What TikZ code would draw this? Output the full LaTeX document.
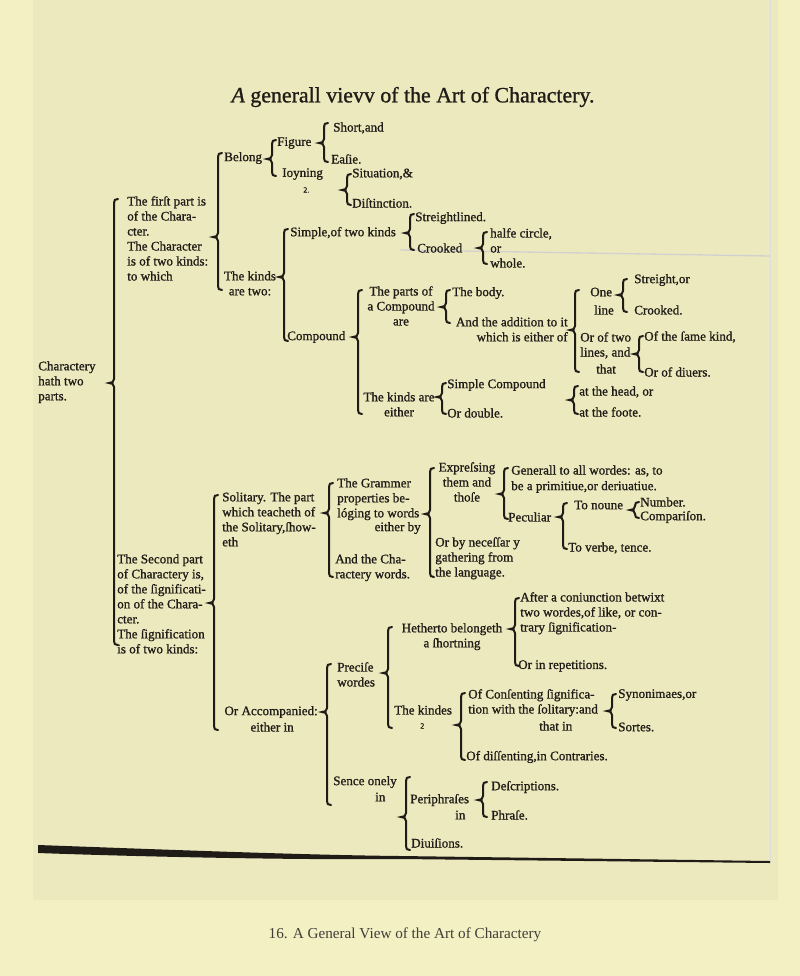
\documentclass[tikz,border=0pt]{standalone}
\usepackage{fontspec}
\setmainfont{Liberation Serif}
\newfontfamily\printfont{Liberation Serif}[FakeBold=1.0]
\usepackage{xcolor}
\usepackage{tikz}
\definecolor{charpaper}{HTML}{F3F0C4}
\definecolor{charplate}{HTML}{ECE9BF}
\definecolor{charink}{HTML}{1F1B16}
\newcommand\bodyfont{\printfont\fontsize{9.8}{11.25}\selectfont}
\newcommand\smallfont{\printfont\fontsize{6}{7}\selectfont}
% brace: x, top, tip, bottom
\newcommand\brc[4]{%
  \draw[brace] (#1+4,#2) .. controls (#1+1,#2) and (#1,#2+1) .. (#1,#2+4)
    -- (#1,#3-4) .. controls (#1,#3-1) and (#1-2,#3) .. (#1-5,#3)
    .. controls (#1-2,#3) and (#1,#3+1) .. (#1,#3+4)
    -- (#1,#4-4) .. controls (#1,#4-1) and (#1+1,#4) .. (#1+4,#4);}

\begin{document}
\begin{tikzpicture}[x=0.75pt, y=-0.75pt,
  txt/.style={anchor=west, inner sep=0pt, text=charink, font=\bodyfont},
  blk/.style={txt, anchor=north west, align=left},
  ttl/.style={inner sep=0pt, text=charink, font=\printfont\fontsize{16.4}{19}\selectfont},
  captext/.style={inner sep=0pt, text=charink!85, font=\fontsize{11.4}{13}\selectfont},
  brace/.style={draw=charink, line width=1.5pt, line cap=round}
]
\useasboundingbox (0,0) rectangle (800,976);
\fill[charpaper] (0,0) rectangle (800,976);
\fill[charplate] (33,0) rectangle (778,900);
\draw[charink!15, line width=0.6pt] (770,0) -- (770,862);
\draw[charink!20, line width=1pt] (400,250) -- (770,256);
\fill[charink] (38,845) .. controls (150,849) and (300,855) .. (400,856) -- (770,861)
  -- (770,863) -- (400,859) .. controls (300,860) and (150,857) .. (38,853) -- cycle;

\node[ttl] (title) at (413,97) {{\itshape A} generall vievv of the Art of Charactery.};

% first part
\node[txt] (short) at (333,128) {Short,and};
\node[txt] (figure) at (277,143) {Figure};
\node[txt] (belong) at (224,158) {Belong};
\node[txt] (easie) at (331,159) {Eaſie.};
\node[txt] (ioyning) at (282,174) {Ioyning};
\node[txt, font=\smallfont] (twoa) at (303,190) {2.};
\node[txt] (situation) at (352,174) {Situation,\&};
\node[txt] (distinction) at (352,203) {Diſtinction.};
\node[txt] (streight) at (415,218) {Streightlined.};
\node[txt] (simple) at (290,233) {Simple,of two kinds};
\node[txt] (crooked) at (417,248) {Crooked};
\node[blk] (halfe) at (490,228) {halfe circle,\\or\\whole.};
\node[blk] (firstpart) at (127,196) {The firſt part is\\of the Chara-\\cter.\\The Character\\is of two kinds:\\to which};
\node[blk, align=center, anchor=north] (kindstwo) at (250,271) {The kinds\\are two:};
\node[txt] (compound) at (287,337) {Compound};
\node[blk, align=center, anchor=north] (parts) at (401,286) {The parts of\\a Compound\\are};
\node[txt] (body) at (452,293) {The body.};
\node[blk, align=right, anchor=north east] (addition) at (568,317) {And the addition to it\\which is either of};
\node[txt] (one) at (590,292) {One};
\node[txt] (line) at (594,310) {line};
\node[txt] (streightor) at (634,280) {Streight,or};
\node[txt] (crookedb) at (634,310) {Crooked.};
\node[txt] (ortwo) at (580,337) {Or of two};
\node[txt] (lines) at (580,353) {lines, and};
\node[txt] (that) at (596,369) {that};
\node[txt] (samekind) at (644,337) {Of the ſame kind,};
\node[txt] (diuers) at (644,372) {Or of diuers.};
\node[blk] (charactery) at (38,361) {Charactery\\hath two\\parts.};
\node[blk, align=center, anchor=north] (kindsare) at (399,392) {The kinds are\\either};
\node[txt] (simplecomp) at (447,385) {Simple Compound};
\node[txt] (double) at (447,413) {Or double.};
\node[txt] (head) at (579,392) {at the head, or};
\node[txt] (foote) at (579,412) {at the foote.};

% second part
\node[blk, align=center, anchor=north] (expressing) at (467,462) {Expreſsing\\them and\\thoſe};
\node[txt] (generall) at (511,471) {Generall to all wordes: as, to};
\node[txt] (primitiue) at (511,487) {be a primitiue,or deriuatiue.};
\node[txt] (peculiar) at (508,517) {Peculiar};
\node[txt] (noune) at (574,505) {To noune};
\node[txt] (number) at (640,502) {Number.};
\node[txt] (comparison) at (640,517) {Compariſon.};
\node[txt] (verbe) at (568,548) {To verbe, tence.};
\node[blk] (grammer) at (337,478) {The Grammer\\properties be-\\lóging to words};
\node[txt, anchor=east] (eitherby) at (421,528) {either by};
\node[blk] (solitary) at (222,492) {Solitary. The part\\which teacheth of\\the Solitary,ſhow-\\eth};
\node[blk] (necessary) at (435,537) {Or by neceſſar y\\gathering from\\the language.};
\node[blk] (charawords) at (335,554) {And the Cha-\\ractery words.};
\node[blk] (secondpart) at (117,554) {The Second part\\of Charactery is,\\of the ſignificati-\\on of the Chara-\\cter.\\The ſignification\\is of two kinds:};
\node[blk] (coniunction) at (520,592) {After a coniunction betwixt\\two wordes,of like, or con-\\trary ſignification-};
\node[txt] (repetitions) at (518,666) {Or in repetitions.};
\node[blk, align=center, anchor=north] (hetherto) at (452,623) {Hetherto belongeth\\a ſhortning};
\node[blk] (precise) at (337,662) {Preciſe\\wordes};
\node[txt, anchor=east] (accompanied) at (318,712) {Or Accompanied:};
\node[txt, anchor=east] (eitherin) at (294,727) {either in};
\node[txt] (kindes) at (394,710) {The kindes};
\node[txt, font=\smallfont] (twob) at (420,726) {2};
\node[blk] (consenting) at (468,689) {Of Conſenting ſignifica-\\tion with the ſolitary:and};
\node[txt] (thatin) at (539,726) {that in};
\node[txt] (synonimaes) at (618,695) {Synonimaes,or};
\node[txt] (sortes) at (618,727) {Sortes.};
\node[txt] (dissenting) at (466,757) {Of diſſenting,in Contraries.};
\node[txt] (sence) at (333,782) {Sence onely};
\node[txt] (sencein) at (375,797) {in};
\node[txt] (periphrases) at (410,800) {Periphraſes};
\node[txt] (periin) at (455,815) {in};
\node[txt] (descriptions) at (491,787) {Deſcriptions.};
\node[txt] (phrase) at (491,815) {Phraſe.};
\node[txt] (diuisions) at (411,843) {Diuiſions.};

\node[captext] (caption) at (405,935) {16. A General View of the Art of Charactery};

% braces
\brc{114}{199}{383}{645}
\brc{218}{153}{237}{290}
\brc{272}{140}{159}{176}
\brc{324}{123}{143}{162}
\brc{347}{174}{190}{205}
\brc{284}{229}{277}{341}
\brc{410}{214}{233}{250}
\brc{483}{232}{248}{264}
\brc{358}{290}{337}{414}
\brc{446}{290}{307}{323}
\brc{575}{290}{330}{372}
\brc{623}{279}{295}{312}
\brc{639}{336}{354}{372}
\brc{442}{383}{397}{414}
\brc{574}{386}{400}{414}
\brc{214}{495}{603}{730}
\brc{329}{483}{513}{577}
\brc{430}{468}{514}{577}
\brc{504}{468}{494}{519}
\brc{563}{503}{517}{549}
\brc{635}{502}{510}{518}
\brc{515}{598}{629}{666}
\brc{327}{664}{712}{805}
\brc{388}{627}{673}{728}
\brc{461}{693}{725}{760}
\brc{612}{694}{711}{728}
\brc{406}{777}{817}{850}
\brc{483}{782}{800}{817}
\end{tikzpicture}
\end{document}
